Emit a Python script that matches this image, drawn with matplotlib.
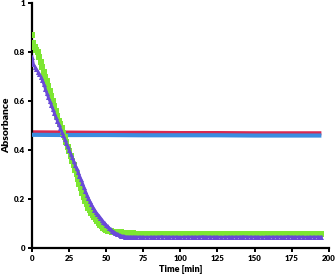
import numpy as np
import matplotlib
matplotlib.use("Agg")
import matplotlib.pyplot as plt

# decay part sampled every minute (0..70 min), plateau every 2.5 min (72.5..195 min)
t_desc = np.arange(0, 71, 1.0)
t_flat = np.arange(72.5, 195.1, 2.5)

# green squares
green_desc = [0.87, 0.835, 0.82, 0.81, 0.80, 0.78, 0.76, 0.74, 0.72, 0.70,
              0.68, 0.66, 0.64, 0.62, 0.60, 0.58, 0.56, 0.54, 0.52, 0.505,
              0.49, 0.47, 0.452, 0.433, 0.414, 0.395, 0.376, 0.357, 0.338, 0.319,
              0.30, 0.281, 0.262, 0.243, 0.225, 0.208, 0.192, 0.178, 0.165, 0.153,
              0.143, 0.134, 0.125, 0.117, 0.109, 0.102, 0.095, 0.088, 0.082, 0.077,
              0.073, 0.071, 0.069, 0.068, 0.067, 0.066, 0.066, 0.065, 0.065, 0.064,
              0.064, 0.063, 0.063, 0.062, 0.062, 0.061, 0.061, 0.060, 0.060, 0.059,
              0.059]
green_flat = [0.058, 0.058, 0.059, 0.058, 0.058, 0.057, 0.058, 0.058, 0.059, 0.058,
              0.058, 0.058, 0.057, 0.058, 0.058, 0.058, 0.059, 0.058, 0.058, 0.058,
              0.058, 0.057, 0.058, 0.058, 0.058, 0.059, 0.058, 0.058, 0.058, 0.058,
              0.058, 0.057, 0.058, 0.058, 0.058, 0.058, 0.059, 0.058, 0.058, 0.058,
              0.058, 0.058, 0.058, 0.057, 0.058, 0.058, 0.058, 0.058, 0.058, 0.058]

# purple triangles
purple_desc = [0.78, 0.75, 0.74, 0.73, 0.72, 0.71, 0.70, 0.685, 0.668, 0.65,
               0.632, 0.615, 0.60, 0.584, 0.568, 0.552, 0.536, 0.52, 0.505, 0.49,
               0.475, 0.46, 0.445, 0.43, 0.415, 0.40, 0.385, 0.37, 0.355, 0.34,
               0.325, 0.31, 0.295, 0.28, 0.265, 0.248, 0.232, 0.217, 0.203, 0.19,
               0.178, 0.167, 0.157, 0.147, 0.139, 0.132, 0.124, 0.116, 0.108, 0.101,
               0.094, 0.088, 0.082, 0.076, 0.071, 0.066, 0.062, 0.058, 0.055, 0.052,
               0.050, 0.048, 0.047, 0.046, 0.045, 0.045, 0.045, 0.045, 0.045, 0.045,
               0.045]
purple_flat = [0.045, 0.045, 0.044, 0.045, 0.045, 0.045, 0.046, 0.045, 0.045, 0.045,
               0.045, 0.044, 0.045, 0.045, 0.045, 0.045, 0.045, 0.046, 0.045, 0.045,
               0.045, 0.045, 0.044, 0.045, 0.045, 0.045, 0.045, 0.045, 0.046, 0.045,
               0.045, 0.045, 0.045, 0.044, 0.045, 0.045, 0.045, 0.045, 0.045, 0.045,
               0.046, 0.045, 0.045, 0.045, 0.045, 0.044, 0.045, 0.045, 0.045, 0.045]

# flat red and blue traces
line_t = [0, 25, 50, 75, 100, 125, 150, 175, 195]
red_vals = [0.472, 0.471, 0.470, 0.470, 0.469, 0.469, 0.468, 0.468, 0.468]
blue_vals = [0.462, 0.461, 0.461, 0.460, 0.460, 0.460, 0.459, 0.459, 0.459]

xticks = [0, 25, 50, 75, 100, 125, 150, 175, 200]
yticks = [0, 0.2, 0.4, 0.6, 0.8, 1]
ytick_labels = ["0", "0.2", "0.4", "0.6", "0.8", "1"]

t = np.concatenate([t_desc, t_flat])
green = np.array(green_desc + green_flat)
purple = np.array(purple_desc + purple_flat)

plt.rcParams['font.family'] = ['Lato', 'DejaVu Sans']

fig = plt.figure(figsize=(3.35, 2.74), dpi=100)
ax = fig.add_axes([0.0955, 0.095, 0.886, 0.894])

ax.plot(line_t, red_vals, color="#d8284f", lw=3.0, solid_capstyle="butt", zorder=2)
ax.plot(line_t, blue_vals, color="#3a8de0", lw=3.0, solid_capstyle="butt", zorder=3)
ax.plot(t, green, ls="none", marker="s", ms=4.2, color="#7de632", mew=0, zorder=4)
ax.plot(t, purple, color="#6a4ad8", lw=2.0, zorder=5)
ax.plot(t, purple, ls="none", marker="^", ms=3.6, color="#6a4ad8", mew=0, zorder=5)

ax.set_xlim(0, 200)
ax.set_ylim(0, 1)
ax.set_xticks(xticks)
ax.set_xticklabels([str(v) for v in xticks])
ax.set_yticks(yticks)
ax.set_yticklabels(ytick_labels)

for s in ["top", "right"]:
    ax.spines[s].set_visible(False)
for s in ["left", "bottom"]:
    ax.spines[s].set_linewidth(1.6)

ax.tick_params(axis="both", direction="out", length=3, width=1.4, pad=2,
               labelsize=5.8)
for lab in ax.get_xticklabels() + ax.get_yticklabels():
    lab.set_fontweight("heavy")

ax.set_xlabel("Time [min]", fontsize=6.5, fontweight="heavy", labelpad=2)
ax.set_ylabel("Absorbance", fontsize=7.5, fontweight="heavy", labelpad=2)

fig.savefig("out.png", dpi=100)
